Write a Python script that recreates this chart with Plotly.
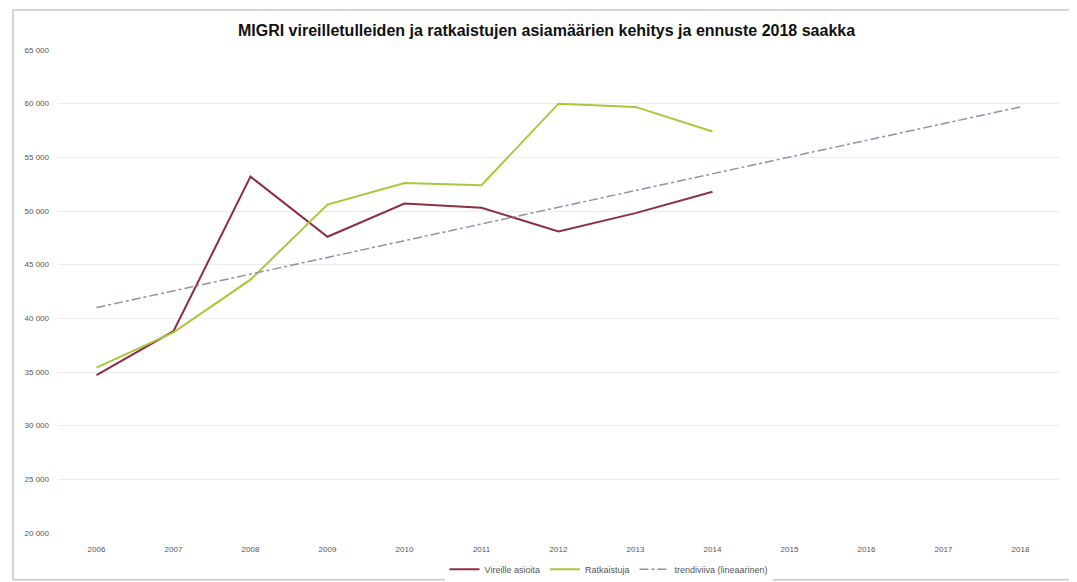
import plotly.graph_objects as go

years = [2006, 2007, 2008, 2009, 2010, 2011, 2012, 2013, 2014, 2015, 2016, 2017, 2018]
data_years = [2006, 2007, 2008, 2009, 2010, 2011, 2012, 2013, 2014]
vireille = [34700, 38800, 53200, 47600, 50700, 50300, 48100, 49800, 51800]
ratkaistuja = [35400, 38700, 43600, 50600, 52600, 52400, 60000, 59700, 57400]
trend_years = [2006, 2018]
trend_values = [41000, 59700]
y_ticks = [20000, 25000, 30000, 35000, 40000, 45000, 50000, 55000, 60000, 65000]

title = "MIGRI vireilletulleiden ja ratkaistujen asiamäärien kehitys ja ennuste 2018 saakka"

fig = go.Figure()
fig.add_trace(go.Scatter(x=data_years, y=vireille, mode="lines", name="Vireille asioita",
                         line=dict(color="#8c2f45", width=2)))
fig.add_trace(go.Scatter(x=data_years, y=ratkaistuja, mode="lines", name="Ratkaistuja",
                         line=dict(color="#a8c83c", width=2)))
fig.add_trace(go.Scatter(x=trend_years, y=trend_values, mode="lines", name="trendiviiva (lineaarinen)",
                         line=dict(color="#8a96a4", width=1.5, dash="dashdot")))

fig.update_layout(
    width=1077, height=582,
    margin=dict(l=50, r=26, t=42, b=57, autoexpand=False),
    paper_bgcolor="white", plot_bgcolor="white",
    separators=", ",
    font=dict(family="Liberation Sans, sans-serif", color="#555555", size=8),
    title=dict(text=title, x=0.5, xanchor="center", y=0.962, yanchor="middle",
               font=dict(family="Liberation Sans, sans-serif",
                         size=16, color="#111111", weight="bold")),
    showlegend=True,
    legend=dict(orientation="h", x=0.55, xanchor="center", y=-0.075, yanchor="middle",
                font=dict(size=9, color="#555555"), itemwidth=30, tracegroupgap=0),
    xaxis=dict(range=[2005.5, 2018.5], tickmode="array", tickvals=years,
               ticktext=[str(y) for y in years], showgrid=False, zeroline=False,
               showline=False, ticks="", ticklabelstandoff=10,
               tickfont=dict(size=8, color="#555555")),
    yaxis=dict(range=[20000, 65000], tickmode="array", tickvals=y_ticks,
               tickformat=",d", showgrid=True, gridcolor="#ececec", gridwidth=1,
               zeroline=False, showline=False, ticks="", ticklabelstandoff=8,
               tickfont=dict(size=8, color="#555555")),
    shapes=[dict(type="rect", xref="paper", yref="paper",
                 x0=-0.045, x1=1.013, y0=-0.097, y1=1.083,
                 line=dict(color="#c8c8c8", width=1.5), fillcolor="rgba(0,0,0,0)")],
)

fig.write_html("out.html")
